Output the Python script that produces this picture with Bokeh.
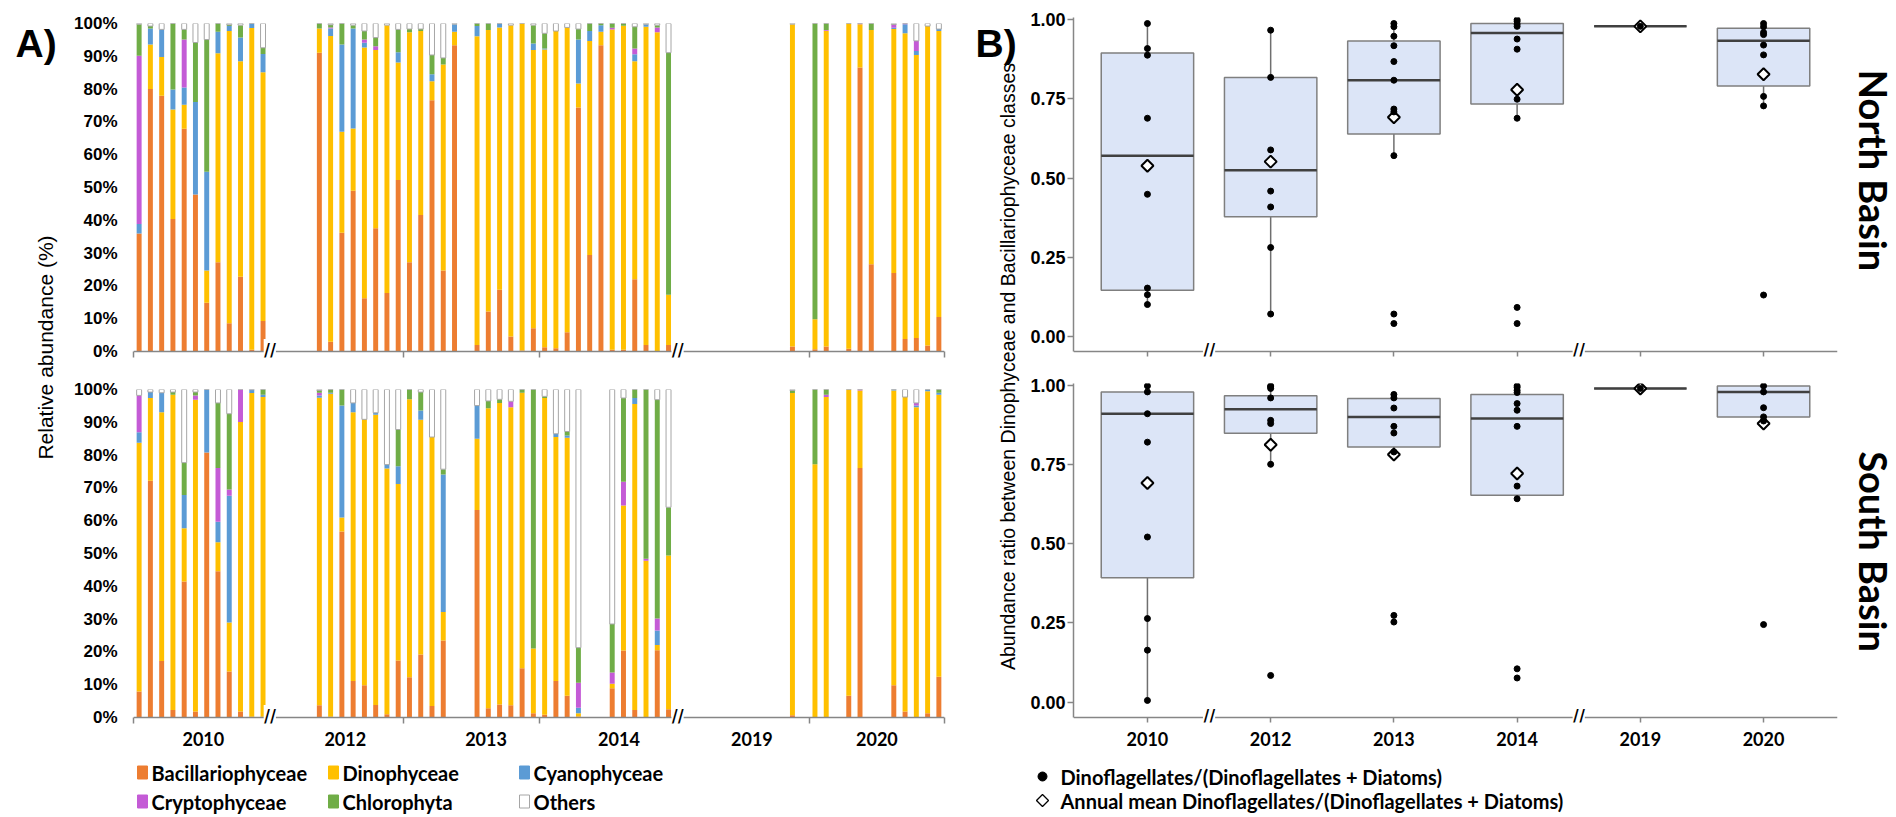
import math
from bokeh.plotting import figure
from bokeh.layouts import row, column
from bokeh.models import (Range1d, FixedTicker, PrintfTickFormatter, NumeralTickFormatter,
                          Label, Span, ColumnDataSource)
from bokeh.core.properties import value
from bokeh.embed import file_html
from bokeh.resources import INLINE

# ---------------- Panel A data (relative abundance, %) ----------------
CLASSES = ["Bacillariophyceae", "Dinophyceae", "Cyanophyceae", "Cryptophyceae", "Chlorophyta", "Others"]
COLORS = ["#ED7D31", "#FFC000", "#5B9BD5", "#C45BD6", "#70AD47", "#FFFFFF"]
LINE_COLORS = [None, None, None, None, None, "#A6A6A6"]

year_labels = ["2010", "2012", "2013", "2014", "2019", "2020"]
year_label_slots = [5.7, 18.3, 30.8, 42.6, 54.4, 65.5]
year_boundary_slots = [-0.5, 23.5, 35.5, 59.5, 71.5]
break_slots = [11.6, 47.8]

# North basin (top chart)
north_slot = [0, 1, 2, 3, 4, 5, 6, 7, 8, 9, 10, 11,
              16, 17, 18, 19, 20, 21, 22, 23, 24, 25, 26, 27, 28,
              30, 31, 32, 33, 34, 35, 36, 37, 38, 39, 40, 41, 42, 43, 44, 45, 46, 47,
              58, 60, 61, 63, 64, 65, 67, 68, 69, 70, 71]
north_bac = [36.0, 80.0, 78.0, 40.4, 67.9, 47.9, 14.9, 27.2, 8.6, 22.8, 0.5, 9.3,
             91.1, 3.0, 36.2, 49.0, 16.2, 37.6, 17.8, 52.3, 27.2, 41.6, 76.6, 24.7, 93.4,
             2.0, 12.2, 18.8, 4.6, 0.3, 7.1, 1.3, 1.0, 5.9, 74.4, 29.4, 93.4, 0.5, 0.5, 22.0, 2.0, 0.0, 2.0,
             1.5, 0.7, 1.5, 0.8, 86.6, 26.6, 23.9, 3.8, 4.1, 1.8, 10.5]
north_dino = [0.0, 13.6, 11.8, 33.4, 7.3, 0.0, 9.8, 63.7, 89.1, 65.7, 98.1, 75.8,
              7.4, 93.2, 30.8, 19.0, 76.5, 54.3, 81.7, 35.8, 70.1, 56.1, 5.8, 62.8, 4.1,
              94.1, 85.8, 80.0, 94.9, 99.7, 84.8, 90.8, 96.7, 92.9, 7.3, 65.3, 4.1, 97.7, 98.8, 66.5, 97.0, 97.3, 15.3,
              98.3, 9.1, 96.3, 99.2, 13.2, 71.4, 74.4, 93.2, 86.3, 97.4, 87.2]
north_cyano = [2.9, 4.9, 8.4, 6.1, 5.3, 28.2, 30.1, 6.6, 1.5, 7.2, 1.4, 5.6,
               0.0, 2.3, 26.6, 30.5, 1.4, 0.0, 0.0, 3.1, 0.0, 0.0, 2.1, 0.0, 2.3,
               3.1, 0.0, 1.2, 0.0, 0.0, 2.0, 0.3, 0.0, 0.0, 13.4, 3.0, 2.0, 0.0, 0.0, 2.1, 0.8, 0.0, 0.0,
               0.0, 0.0, 0.0, 0.0, 0.0, 0.0, 0.4, 2.8, 1.2, 0.0, 0.6]
north_crypto = [51.3, 0.0, 0.0, 0.0, 14.6, 0.0, 0.0, 0.0, 0.0, 0.0, 0.0, 0.0,
                0.0, 0.3, 0.0, 0.0, 1.0, 1.2, 0.0, 0.0, 0.0, 0.0, 0.0, 0.0, 0.0,
                0.0, 0.0, 0.0, 0.0, 0.0, 0.0, 0.0, 0.0, 0.0, 0.0, 0.0, 0.0, 0.5, 0.0, 1.8, 0.0, 1.5, 0.0,
                0.0, 0.0, 0.2, 0.0, 0.2, 0.0, 1.0, 0.2, 3.1, 0.0, 0.0]
north_chloro = [9.6, 0.7, 0.0, 20.1, 3.1, 18.1, 40.3, 2.5, 0.4, 3.8, 0.0, 1.9,
                1.5, 0.8, 6.4, 1.0, 2.6, 2.6, 0.0, 7.0, 1.0, 0.6, 5.9, 2.0, 0.0,
                0.8, 2.0, 0.0, 0.0, 0.0, 5.6, 4.6, 0.0, 0.0, 3.2, 2.3, 0.5, 1.3, 0.7, 6.6, 0.0, 0.7, 73.8,
                0.0, 90.2, 2.0, 0.0, 0.0, 2.0, 0.0, 0.0, 0.0, 0.0, 0.0]
north_others = [0.2, 0.8, 1.8, 0.0, 1.8, 5.8, 4.9, 0.0, 0.4, 0.5, 0.0, 7.4,
                0.0, 0.4, 0.0, 0.5, 2.3, 4.3, 0.5, 1.8, 1.7, 1.7, 9.6, 10.5, 0.2,
                0.0, 0.0, 0.0, 0.5, 0.0, 0.5, 3.0, 2.3, 1.2, 1.7, 0.0, 0.0, 0.0, 0.0, 1.0, 0.2, 0.5, 8.9,
                0.2, 0.0, 0.0, 0.0, 0.0, 0.0, 0.3, 0.0, 5.3, 0.8, 1.7]

# South basin (bottom chart)
south_slot = [0, 1, 2, 3, 4, 5, 6, 7, 8, 9, 10, 11,
              16, 17, 18, 19, 20, 21, 22, 23, 24, 25, 26, 27,
              30, 31, 32, 33, 34, 35, 36, 37, 38, 39,
              42, 43, 44, 45, 46, 47,
              58, 60, 61, 63, 64, 67, 68, 69, 70, 71]
south_bac = [7.9, 72.2, 17.2, 2.3, 41.5, 1.8, 80.8, 44.6, 14.0, 1.8, 0.2, 0.2,
             3.7, 0.2, 56.7, 11.1, 9.8, 3.8, 1.0, 17.4, 12.3, 19.2, 3.5, 23.5,
             63.3, 2.8, 4.0, 3.7, 15.0, 1.3, 0.8, 11.1, 6.6, 0.3,
             8.9, 20.4, 2.3, 0.0, 20.5, 2.5,
             0.7, 0.0, 0.0, 6.6, 76.1, 9.8, 1.8, 0.0, 1.3, 12.4]
south_dino = [75.9, 25.2, 75.9, 96.1, 16.2, 95.1, 0.0, 8.8, 15.0, 88.3, 98.7, 97.5,
              93.8, 98.5, 4.3, 82.0, 81.1, 88.5, 74.9, 53.8, 84.7, 71.6, 82.0, 8.7,
              21.7, 91.5, 91.9, 90.9, 84.0, 19.7, 96.6, 74.4, 78.7, 1.0,
              1.4, 44.2, 93.3, 47.8, 1.6, 46.9,
              98.2, 77.2, 97.7, 93.4, 23.6, 89.9, 95.9, 94.6, 98.2, 86.0]
south_cyano = [3.2, 1.8, 5.9, 0.0, 10.1, 0.0, 19.2, 6.3, 38.6, 0.0, 1.0, 0.7,
               0.7, 0.3, 34.1, 2.8, 0.0, 0.6, 1.2, 5.4, 0.0, 2.8, 0.0, 41.9,
               10.1, 0.0, 0.0, 0.0, 0.0, 0.0, 0.0, 1.0, 0.7, 1.7,
               0.0, 0.0, 1.8, 0.0, 4.4, 0.0,
               0.0, 0.0, 0.0, 0.0, 0.0, 0.3, 0.0, 0.5, 0.5, 0.6]
south_crypto = [11.2, 0.0, 0.0, 0.0, 0.0, 1.3, 0.0, 16.4, 1.9, 9.9, 0.0, 0.0,
                0.8, 0.0, 0.0, 0.0, 0.0, 0.0, 0.0, 0.0, 0.0, 0.0, 0.0, 0.0,
                0.0, 0.0, 0.0, 1.8, 0.0, 0.0, 0.0, 0.0, 0.0, 7.6,
                3.4, 7.3, 0.0, 0.6, 3.7, 0.0,
                0.0, 0.0, 0.7, 0.0, 0.3, 0.0, 0.0, 0.8, 0.0, 0.0]
south_chloro = [0.0, 0.0, 0.0, 0.8, 9.9, 1.0, 0.0, 19.8, 23.1, 0.0, 0.0, 1.6,
                0.7, 1.0, 4.9, 0.0, 0.0, 0.0, 0.0, 11.2, 3.0, 5.6, 0.0, 1.6,
                0.0, 2.2, 1.1, 0.0, 1.0, 79.0, 0.5, 0.0, 1.2, 10.7,
                14.8, 25.5, 2.6, 51.6, 66.7, 14.7,
                0.8, 22.8, 1.6, 0.0, 0.0, 0.0, 0.0, 0.0, 0.0, 1.0]
south_others = [1.8, 0.8, 1.0, 0.8, 22.3, 0.8, 0.0, 4.1, 7.4, 0.0, 0.1, 0.0,
                0.3, 0.0, 0.0, 4.1, 9.1, 7.1, 22.9, 12.2, 0.0, 0.8, 14.5, 24.3,
                4.9, 3.5, 3.0, 3.6, 0.0, 0.0, 2.1, 13.5, 12.8, 78.7,
                71.5, 2.6, 0.0, 0.0, 3.1, 35.9,
                0.3, 0.0, 0.0, 0.0, 0.0, 0.0, 2.3, 4.1, 0.0, 0.0]

# ---------------- Panel B data (Dino/(Dino+Diatoms) ratio) ----------------
box_years = ["2010", "2012", "2013", "2014", "2019", "2020"]
box_breaks = [0.5, 3.5]

north_q1 = [0.146, 0.378, 0.639, 0.734, 0.979, 0.791]
north_median = [0.571, 0.525, 0.809, 0.958, 0.979, 0.934]
north_q3 = [0.895, 0.818, 0.933, 0.988, 0.979, 0.973]
north_wlo = [0.101, 0.071, 0.571, 0.689, 0.979, 0.728]
north_whi = [0.988, 0.967, 0.988, 1.000, 0.979, 0.988]
north_mean = [0.539, 0.552, 0.692, 0.779, 0.979, 0.828]
north_points = [
    [0.988, 0.909, 0.888, 0.689, 0.449, 0.153, 0.132, 0.101],
    [0.967, 0.818, 0.589, 0.459, 0.409, 0.281, 0.071],
    [0.988, 0.978, 0.948, 0.918, 0.868, 0.809, 0.718, 0.709, 0.571, 0.071, 0.041],
    [1.000, 0.995, 0.986, 0.979, 0.939, 0.907, 0.749, 0.689, 0.092, 0.041],
    [0.979],
    [0.988, 0.978, 0.960, 0.953, 0.920, 0.889, 0.758, 0.728, 0.131],
]

south_q1 = [0.393, 0.850, 0.807, 0.654, 0.992, 0.902]
south_median = [0.912, 0.926, 0.902, 0.897, 0.992, 0.981]
south_q3 = [0.981, 0.969, 0.960, 0.973, 0.992, 1.000]
south_wlo = [0.005, 0.752, 0.791, 0.643, 0.992, 0.889]
south_whi = [1.000, 1.000, 0.973, 1.000, 0.992, 1.000]
south_mean = [0.693, 0.814, 0.783, 0.723, 0.992, 0.881]
south_points = [
    [1.000, 0.981, 0.912, 0.822, 0.522, 0.264, 0.164, 0.005],
    [1.000, 0.997, 0.992, 0.962, 0.891, 0.881, 0.752, 0.084],
    [0.973, 0.962, 0.930, 0.872, 0.851, 0.791, 0.274, 0.253],
    [1.000, 0.995, 0.986, 0.979, 0.944, 0.923, 0.872, 0.683, 0.643, 0.105, 0.076],
    [0.992],
    [1.000, 0.981, 0.931, 0.902, 0.889, 0.245],
]

LEGEND_B = ["Dinoflagellates/(Dinoflagellates + Diatoms)",
            "Annual mean Dinoflagellates/(Dinoflagellates + Diatoms)"]

# ---------------- styling ----------------
AXIS_GRAY = "#868686"
TICK_FONT = "Liberation Sans"
CAT_FONT = "Lato"
BOX_W = 0.75
BOX_FILL = "#DCE5F7"
BOX_LINE = "#7F7F7F"
MED_COLOR = "#404040"
POINT_STYLE = dict(marker="circle", size=6, fill_color="black", line_color="black")
MEAN_STYLE = dict(marker="square", angle=math.pi / 4, size=8.5, fill_color="white",
                  line_color="black", line_width=2)
MAIN_H = 760
LEG_H = 57


def base_fig(width, height, x_range, y_range, borders):
    l, r, t, b = borders
    p = figure(width=width, height=height, x_range=x_range, y_range=y_range,
               toolbar_location=None, output_backend="svg", title=None,
               min_border_left=l, min_border_right=r, min_border_top=t, min_border_bottom=b)
    p.outline_line_color = None
    p.xgrid.grid_line_color = None
    p.ygrid.grid_line_color = None
    return p


def blank_fig(width, height):
    # frame == canvas, one data unit == one pixel
    p = figure(width=width, height=height, x_range=Range1d(0, width), y_range=Range1d(0, height),
               x_axis_type=None, y_axis_type=None, toolbar_location=None,
               output_backend="svg", title=None, min_border=0)
    p.outline_line_color = None
    return p


def add_axis_line_and_breaks(p, y, xs):
    p.add_layout(Span(location=y, dimension="width", line_color=AXIS_GRAY, line_width=1.5))
    for bx in xs:
        p.add_layout(Label(x=bx, y=y, text="//", text_align="center",
                           text_baseline="middle", text_font=TICK_FONT, text_font_size="22px",
                           text_color="black", background_fill_color="white"))


def style_hidden_xaxis(xa, tick_len):
    xa.axis_line_color = None
    xa.major_tick_line_color = None
    xa.major_tick_out = 0
    xa.major_tick_in = 0
    xa.minor_tick_line_color = AXIS_GRAY
    xa.minor_tick_line_width = 1.5
    xa.minor_tick_out = 0
    xa.minor_tick_in = tick_len
    xa.major_label_text_font = CAT_FONT
    xa.major_label_text_font_style = "bold"
    xa.major_label_text_font_size = "18px"
    xa.major_label_text_color = "black"


def abundance_fig(height, top_b, bottom_b, slots, series, show_labels):
    # the frame reaches 6 px below 0 %; the visible axis line is drawn at 0 %
    p = base_fig(892, height, Range1d(-0.5, 71.5), Range1d(-1.83, 100), (65, 16, top_b, bottom_b))
    data = {"slot": slots}
    for c, s in zip(CLASSES, series):
        data[c] = s
    src = ColumnDataSource(data)
    p.vbar_stack(CLASSES, x="slot", width=0.44, source=src,
                 fill_color=COLORS, line_color=LINE_COLORS, line_width=1)
    ya = p.yaxis[0]
    ya.ticker = FixedTicker(ticks=list(range(0, 101, 10)))
    ya.formatter = PrintfTickFormatter(format="%d%%")
    ya.axis_line_color = None
    ya.major_tick_line_color = None
    ya.minor_tick_line_color = None
    ya.major_label_text_font = TICK_FONT
    ya.major_label_text_font_style = "bold"
    ya.major_label_text_font_size = "17px"
    ya.major_label_text_color = "black"
    ya.major_label_standoff = 10
    xa = p.xaxis[0]
    if show_labels:
        xa.ticker = FixedTicker(ticks=year_label_slots, minor_ticks=year_boundary_slots)
        xa.major_label_overrides = {s: y for s, y in zip(year_label_slots, year_labels)}
        xa.major_label_standoff = 8
    else:
        xa.ticker = FixedTicker(ticks=[], minor_ticks=year_boundary_slots)
        xa.major_label_standoff = 0
    style_hidden_xaxis(xa, 6)
    add_axis_line_and_breaks(p, 0, break_slots)
    return p


def box_fig(height, top_b, bottom_b, y_lo, axis_y, y_hi, q1, med, q3, wlo, whi, mean, points, show_labels):
    p = base_fig(820, height, Range1d(-0.6, 5.6), Range1d(y_lo, y_hi), (53, 3, top_b, bottom_b))
    xs = list(range(len(box_years)))
    src = ColumnDataSource(dict(x=xs, q1=q1, med=med, q3=q3, wlo=wlo, whi=whi, mean=mean,
                                x0=[x - BOX_W / 2 for x in xs], x1=[x + BOX_W / 2 for x in xs]))
    p.segment(x0="x", x1="x", y0="wlo", y1="whi", source=src, line_color="#6F6F6F", line_width=1.5)
    p.vbar(x="x", width=BOX_W, bottom="q1", top="q3", source=src,
           fill_color=BOX_FILL, line_color=BOX_LINE, line_width=1.5)
    p.segment(x0="x0", x1="x1", y0="med", y1="med", source=src, line_color=MED_COLOR, line_width=2.5)
    p.scatter(x="x", y="mean", source=src, **MEAN_STYLE)
    px = [i for i, ys in enumerate(points) for _ in ys]
    py = [v for ys in points for v in ys]
    p.scatter(x=px, y=py, **POINT_STYLE)

    ya = p.yaxis[0]
    ya.bounds = (axis_y, y_hi)
    ya.ticker = FixedTicker(ticks=[0, 0.25, 0.5, 0.75, 1.0])
    ya.formatter = NumeralTickFormatter(format="0.00")
    ya.axis_line_color = AXIS_GRAY
    ya.axis_line_width = 1.5
    ya.major_tick_line_color = AXIS_GRAY
    ya.major_tick_line_width = 1.5
    ya.major_tick_out = 6
    ya.major_tick_in = 0
    ya.minor_tick_line_color = None
    ya.major_label_text_font = TICK_FONT
    ya.major_label_text_font_style = "bold"
    ya.major_label_text_font_size = "18px"
    ya.major_label_text_color = "black"
    ya.major_label_standoff = 2
    xa = p.xaxis[0]
    if show_labels:
        xa.ticker = FixedTicker(ticks=xs, minor_ticks=xs)
        xa.major_label_overrides = {i: y for i, y in zip(xs, box_years)}
        xa.major_label_standoff = 9
    else:
        xa.ticker = FixedTicker(ticks=[], minor_ticks=xs)
        xa.major_label_standoff = 0
    style_hidden_xaxis(xa, 5)
    add_axis_line_and_breaks(p, axis_y, box_breaks)
    return p


# ---------------- Panel A ----------------
pa_top = abundance_fig(370, 23, 13, north_slot,
                       [north_bac, north_dino, north_cyano, north_crypto, north_chloro, north_others], False)
pa_bot = abundance_fig(390, 19, 37, south_slot,
                       [south_bac, south_dino, south_cyano, south_crypto, south_chloro, south_others], True)

# ---------------- Panel B ----------------
pb_top = box_fig(370, 17, 14, -0.063, -0.047, 1.007, north_q1, north_median, north_q3,
                 north_wlo, north_whi, north_mean, north_points, False)
pb_bot = box_fig(390, 13, 38, -0.0648, -0.049, 1.0076, south_q1, south_median, south_q3,
                 south_wlo, south_whi, south_mean, south_points, True)

# ---------------- legends strip (full page width, pixel units) ----------------
leg_fig = blank_fig(1896, LEG_H)
# panel A legend: 3 columns x 2 rows
LEG_A_LEFT, LEG_A_COL, LEG_A_ROWS = 137, 191, [45, 16]
lx = [LEG_A_LEFT + (i % 3) * LEG_A_COL for i in range(len(CLASSES))]
ly = [LEG_A_ROWS[i // 3] for i in range(len(CLASSES))]
leg_fig.rect(x=[v + 5 for v in lx], y=ly, width=10, height=13,
             fill_color=COLORS, line_color=["#ED7D31", "#FFC000", "#5B9BD5", "#C45BD6", "#70AD47", "#A6A6A6"],
             line_width=1)
leg_fig.text(x=[v + 14 for v in lx], y=ly, text=CLASSES, text_font=value(CAT_FONT),
             text_font_style="bold", text_font_size=value("20px"), text_color="black",
             text_baseline="middle", text_align="left")
# panel B legend
LEG_B_X, LEG_B_ROWS = 1042, [41, 17]
leg_fig.scatter(x=[LEG_B_X], y=[LEG_B_ROWS[0]], marker="circle", size=9, fill_color="black", line_color="black")
leg_fig.scatter(x=[LEG_B_X], y=[LEG_B_ROWS[1]], marker="square", angle=math.pi / 4, size=8.5,
                fill_color="white", line_color="black", line_width=1.3)
leg_fig.text(x=[LEG_B_X + 18] * 2, y=LEG_B_ROWS, text=LEGEND_B, text_font=value(CAT_FONT),
             text_font_style="bold", text_font_size=value("20px"), text_color="black",
             text_baseline="middle", text_align="left")

# ---------------- side label columns ----------------
lab_a = blank_fig(68, MAIN_H)
lab_a.add_layout(Label(x=15, y=MAIN_H - 43, text="A)",
                       text_font=TICK_FONT, text_font_style="bold", text_font_size="39px",
                       text_baseline="alphabetic", text_color="black"))
lab_a.add_layout(Label(x=45, y=MAIN_H - 347, text="Relative abundance (%)",
                       angle=math.pi / 2, text_align="center", text_baseline="middle",
                       text_font=TICK_FONT, text_font_size="21px", text_color="black"))

lab_b = blank_fig(60, MAIN_H)
lab_b.add_layout(Label(x=15, y=MAIN_H - 43, text="B)",
                       text_font=TICK_FONT, text_font_style="bold", text_font_size="39px",
                       text_baseline="alphabetic", text_color="black"))
lab_b.add_layout(Label(x=47, y=MAIN_H - 366,
                       text="Abundance ratio between Dinophyceae and Bacillariophyceae classes",
                       angle=math.pi / 2, text_align="center", text_baseline="middle",
                       text_font=TICK_FONT, text_font_size="19.5px", text_color="black"))

basin_fig = blank_fig(56, MAIN_H)
for txt, yc in (("North Basin", 170), ("South Basin", 551)):
    basin_fig.add_layout(Label(x=33, y=MAIN_H - yc, text=txt,
                               angle=-math.pi / 2, text_align="center", text_baseline="middle",
                               text_font=CAT_FONT, text_font_style="bold", text_font_size="38px",
                               text_color="black"))

main_row = row(lab_a, column(pa_top, pa_bot), lab_b, column(pb_top, pb_bot), basin_fig)
layout = column(main_row, leg_fig)

open("out.html", "w").write(file_html(layout, INLINE))
